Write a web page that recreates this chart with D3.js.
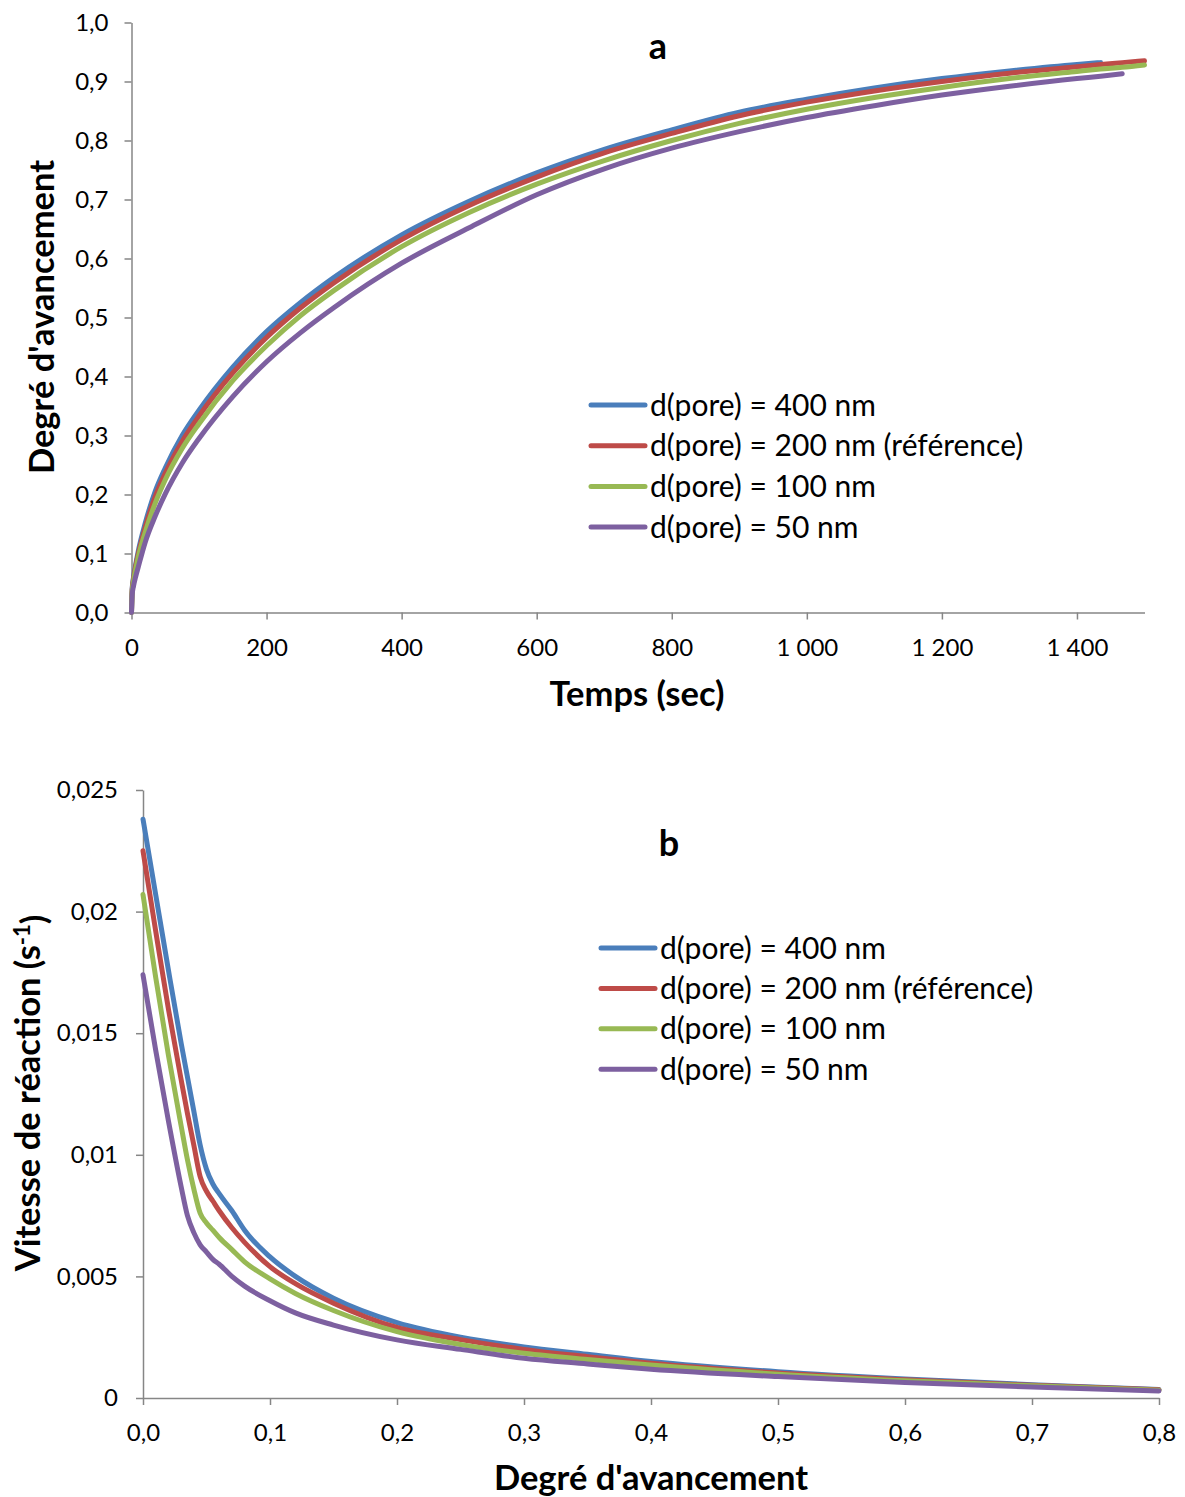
<!DOCTYPE html>
<html><head><meta charset="utf-8">
<script src="https://cdn.jsdelivr.net/npm/d3@7"></script>
<style>
body{margin:0;background:#fff}
svg{display:block}
text{font-family:Lato,"Open Sans",sans-serif;fill:#000}
</style>
</head><body>
<svg id="chart" width="1185" height="1497"></svg>
<script>
// ---------- shared series definitions ----------
const seriesLabels = ["d(pore) = 400 nm", "d(pore) = 200 nm (référence)", "d(pore) = 100 nm", "d(pore) = 50 nm"];
const seriesColors = ["#4A7EBB", "#BE4B48", "#98B954", "#7D60A0"];

// ---------- chart a : Degré d'avancement vs Temps ----------
const timesA = [0, 1, 3, 6, 10, 20, 35, 50, 75, 100, 150, 200, 250, 300, 400, 500, 600, 700, 800, 900, 1000, 1100, 1200, 1300, 1400, 1435, 1467, 1500];
const advance400 = [0, 0.04, 0.06, 0.08, 0.104, 0.15, 0.205, 0.245, 0.30, 0.343, 0.416, 0.476, 0.525, 0.568, 0.640, 0.697, 0.745, 0.785, 0.818, 0.848, 0.870, 0.889, 0.905, 0.918, 0.929, 0.932, null, null];
const advance200 = [0, 0.038, 0.057, 0.077, 0.099, 0.143, 0.196, 0.236, 0.29, 0.333, 0.406, 0.466, 0.516, 0.559, 0.632, 0.690, 0.738, 0.779, 0.812, 0.842, 0.865, 0.884, 0.900, 0.914, 0.925, 0.929, 0.932, 0.935];
const advance100 = [0, 0.035, 0.053, 0.072, 0.094, 0.135, 0.185, 0.225, 0.278, 0.32, 0.393, 0.452, 0.503, 0.546, 0.620, 0.678, 0.726, 0.766, 0.80, 0.829, 0.853, 0.873, 0.890, 0.905, 0.917, 0.921, 0.924, 0.928];
const advance50  = [0, 0.03, 0.045, 0.06, 0.077, 0.118, 0.163, 0.201, 0.253, 0.295, 0.366, 0.425, 0.474, 0.517, 0.592, 0.652, 0.708, 0.752, 0.787, 0.815, 0.839, 0.859, 0.877, 0.892, 0.905, 0.909, 0.913, null];
const xTicksA = [0, 200, 400, 600, 800, 1000, 1200, 1400];
const yTicksA = [0, 0.1, 0.2, 0.3, 0.4, 0.5, 0.6, 0.7, 0.8, 0.9, 1.0];

// ---------- chart b : Vitesse de réaction vs Degré d'avancement ----------
const degreeB = [0, 0.01, 0.02, 0.03, 0.035, 0.04, 0.045, 0.05, 0.055, 0.06, 0.07, 0.08, 0.1, 0.12, 0.15, 0.2, 0.25, 0.3, 0.35, 0.4, 0.5, 0.6, 0.7, 0.8];
const rate400 = [0.0238, 0.0207, 0.0176, 0.0146, 0.0132, 0.0118, 0.0104, 0.0094, 0.0088, 0.0084, 0.0077, 0.0069, 0.0058, 0.0050, 0.0041, 0.0031, 0.0025, 0.0021, 0.0018, 0.0015, 0.00108, 0.00078, 0.00055, 0.00035];
const rate200 = [0.0225, 0.0192, 0.0160, 0.0131, 0.0117, 0.0104, 0.0091, 0.0085, 0.0081, 0.0077, 0.0070, 0.0064, 0.0054, 0.0047, 0.0039, 0.0029, 0.0024, 0.0020, 0.0017, 0.00143, 0.00103, 0.00075, 0.00052, 0.00034];
const rate100 = [0.0207, 0.0173, 0.0141, 0.0112, 0.0098, 0.0086, 0.0076, 0.0072, 0.0069, 0.0066, 0.0061, 0.0056, 0.0049, 0.0043, 0.0036, 0.00273, 0.0022, 0.00184, 0.00158, 0.00136, 0.00098, 0.00071, 0.0005, 0.00032];
const rate50  = [0.0174, 0.0143, 0.0114, 0.0087, 0.0075, 0.0068, 0.0063, 0.0060, 0.0057, 0.0055, 0.0050, 0.0046, 0.0040, 0.0035, 0.0030, 0.00239, 0.0020, 0.00163, 0.0014, 0.00118, 0.00088, 0.00064, 0.00045, 0.00029];
const xTicksB = [0, 0.1, 0.2, 0.3, 0.4, 0.5, 0.6, 0.7, 0.8];
const yTicksB = [0, 0.005, 0.01, 0.015, 0.02, 0.025];

// ---------- helpers ----------
const loc = d3.formatLocale({decimal: ",", thousands: " ", grouping: [3], currency: ["", " €"]});
const fmt1 = loc.format(".1f");
const fmtThousands = loc.format(",d");
const fmtGeneral = d => d === 0 ? "0" : loc.format("~g")(d);

const svg = d3.select("#chart");
const AXIS = "#868686";
const TICK_FONT = 24, LEGEND_FONT = 30, TITLE_FONT = 34.5, LETTER_FONT = 36, LW = 5;

function styleAxis(g) {
  g.selectAll("path.domain").attr("stroke", AXIS).attr("stroke-width", 1.5);
  g.selectAll(".tick line").attr("stroke", AXIS).attr("stroke-width", 1.5);
  g.selectAll(".tick text").attr("fill", "#000")
    .style("font-family", "Lato, 'Open Sans', sans-serif").style("font-size", TICK_FONT + "px");
}

function drawPanel(cfg) {
  const x = d3.scaleLinear().domain(cfg.xDomain).range(cfg.xRange);
  const y = d3.scaleLinear().domain(cfg.yDomain).range(cfg.yRange);

  const gx = svg.append("g").attr("transform", `translate(0,${cfg.yRange[0]})`)
    .call(d3.axisBottom(x).tickValues(cfg.xTicks).tickFormat(cfg.xFmt).tickSize(7).tickSizeOuter(0).tickPadding(cfg.xPad));
  styleAxis(gx);

  const gy = svg.append("g").attr("transform", `translate(${cfg.xRange[0]},0)`)
    .call(d3.axisLeft(y).tickValues(cfg.yTicks).tickFormat(cfg.yFmt).tickSize(7).tickSizeOuter(0).tickPadding(cfg.yPad));
  styleAxis(gy);

  const line = d3.line()
    .x(d => x(d[0])).y(d => y(d[1]))
    .curve(d3.curveMonotoneX);

  cfg.series.forEach((vals, i) => {
    const pts = cfg.xs.map((xv, k) => [xv, vals[k]]).filter(d => d[1] !== null);
    svg.append("path").datum(pts)
      .attr("fill", "none")
      .attr("stroke", seriesColors[i])
      .attr("stroke-width", LW)
      .attr("stroke-linecap", "round")
      .attr("stroke-linejoin", "round")
      .attr("d", line);
  });

  // legend
  const lg = svg.append("g");
  seriesLabels.forEach((lab, i) => {
    const yy = cfg.legend.y0 + i * cfg.legend.dy;
    lg.append("line").attr("x1", cfg.legend.x).attr("x2", cfg.legend.x + 54)
      .attr("y1", yy).attr("y2", yy)
      .attr("stroke", seriesColors[i]).attr("stroke-width", LW).attr("stroke-linecap", "round");
    lg.append("text").attr("x", cfg.legend.x + 59).attr("y", yy).attr("dy", "0.35em")
      .style("font-size", LEGEND_FONT + "px").text(lab);
  });

  // panel letter
  svg.append("text").attr("x", cfg.letter.x).attr("y", cfg.letter.y)
    .attr("text-anchor", "middle").style("font-size", LETTER_FONT + "px").style("font-weight", 700)
    .text(cfg.letter.t);
}

drawPanel({
  xDomain: [0, 1500], xRange: [131.5, 1144.5],
  yDomain: [0, 1], yRange: [612.5, 22.5],
  xTicks: xTicksA, yTicks: yTicksA,
  xFmt: d => d >= 1000 ? fmtThousands(d) : String(d), yFmt: fmt1,
  xPad: 19, yPad: 16, 
  xs: timesA, series: [advance400, advance200, advance100, advance50],
  legend: {x: 591, y0: 405, dy: 40.7},
  letter: {x: 658, y: 59, t: "a"}
});

drawPanel({
  xDomain: [0, 0.8], xRange: [143, 1159],
  yDomain: [0, 0.025], yRange: [1398, 790],
  xTicks: xTicksB, yTicks: yTicksB,
  xFmt: fmt1, yFmt: fmtGeneral,
  xPad: 19, yPad: 18,
  xs: degreeB, series: [rate400, rate200, rate100, rate50],
  legend: {x: 601, y0: 948, dy: 40.4},
  letter: {x: 669, y: 856, t: "b"}
});

// axis titles
svg.append("text").attr("x", 637).attr("y", 706).attr("text-anchor", "middle")
  .style("font-size", TITLE_FONT + "px").style("font-weight", 700).text("Temps (sec)");
svg.append("text").attr("transform", "translate(54,317) rotate(-90)").attr("text-anchor", "middle")
  .style("font-size", TITLE_FONT + "px").style("font-weight", 700).text("Degré d'avancement");
svg.append("text").attr("x", 651).attr("y", 1490).attr("text-anchor", "middle")
  .style("font-size", TITLE_FONT + "px").style("font-weight", 700).text("Degré d'avancement");
const yt = svg.append("text").attr("transform", "translate(40,1093) rotate(-90)").attr("text-anchor", "middle")
  .style("font-size", TITLE_FONT + "px").style("font-weight", 700);
yt.append("tspan").text("Vitesse de réaction (s");
yt.append("tspan").attr("dy", "-0.45em").style("font-size", "22px").text("-1");
yt.append("tspan").attr("dy", "0.45em").text(")");
</script>
</body></html>
